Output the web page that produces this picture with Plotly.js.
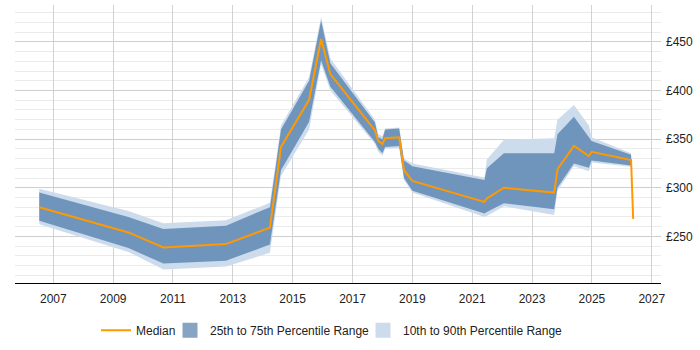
<!DOCTYPE html>
<html><head><meta charset="utf-8">
<script src="https://cdn.plot.ly/plotly-3.0.1.min.js"></script>
<style>html,body{margin:0;padding:0;background:#fff}#chart{width:700px;height:350px}</style>
</head><body><div id="chart"></div>
<script>
const years  = [2006.53, 2009.51, 2010.68, 2012.77, 2014.24, 2014.61, 2015.55, 2015.95, 2016.26, 2017.75, 2017.86, 2018.00, 2018.09, 2018.56, 2018.72, 2019.00, 2021.41, 2021.49, 2022.06, 2023.74, 2023.85, 2024.40, 2024.90, 2024.99, 2026.31, 2026.38];
const median = [280, 254, 238.5, 242, 259, 342, 390.5, 453, 417, 359, 348, 345, 351, 352, 318, 307, 285.5, 289, 300, 295, 319, 343, 332.5, 337, 328.5, 268];
const p25    = [266, 238, 222, 225, 241.5, 318, 368, 431, 404, 347, 340, 335.5, 342, 343, 310, 297, 273.5, 275, 284, 278, 300, 325, 320.5, 328, 323, 268];
const p75    = [295, 270, 257.5, 261, 280, 360, 410, 472, 428, 367, 352, 350, 360, 361, 328, 322, 308, 320, 335.5, 335.5, 355, 373, 352, 348, 334, 268];
const p10    = [262.5, 234, 216, 219, 233, 312, 360, 427, 400, 345, 337, 333, 340, 341, 308, 295, 270, 271, 281, 272, 297, 322, 317, 326, 321.5, 268];
const p90    = [299, 276, 263.5, 266.5, 284.5, 364, 414, 476, 433, 370, 355, 353, 361, 362, 330, 325, 310.5, 329, 349.5, 351, 370, 385, 364, 352, 335.5, 268];
const yTickPrefix = '£';
const seriesNames = ['Median', '25th to 75th Percentile Range', '10th to 90th Percentile Range'];

const rev = a => a.slice().reverse();
const lightCol = 'rgb(205,220,236)';
const darkCol = 'rgb(112,149,188)';
const orange = 'rgb(255,153,0)';

const traces = [
  {x: years.concat(rev(years)), y: p90.concat(rev(p10)), type: 'scatter', mode: 'lines',
   fill: 'toself', fillcolor: lightCol, line: {width: 0}, showlegend: false, hoverinfo: 'skip'},
  {x: years.concat(rev(years)), y: p75.concat(rev(p25)), type: 'scatter', mode: 'lines',
   fill: 'toself', fillcolor: darkCol, line: {width: 0}, showlegend: false, hoverinfo: 'skip'},
  {x: years, y: median, type: 'scatter', mode: 'lines', name: seriesNames[0],
   line: {color: orange, width: 2}, legendwidth: 29},
  {x: [null], y: [null], type: 'scatter', mode: 'markers', name: seriesNames[1],
   marker: {symbol: 'square', size: 15, color: 'rgb(136,164,197)'}, legendwidth: 148},
  {x: [null], y: [null], type: 'scatter', mode: 'markers', name: seriesNames[2],
   marker: {symbol: 'square', size: 15, color: lightCol}}
];

const layout = {
  width: 700, height: 350,
  margin: {l: 15, r: 39, t: 5, b: 57},
  paper_bgcolor: '#fff', plot_bgcolor: '#fff',
  font: {family: 'Liberation Sans, Arial, sans-serif', size: 12, color: '#222'},
  showlegend: true,
  legend: {orientation: 'h', x: 0.1254, xanchor: 'left', y: -0.118, yanchor: 'top',
           font: {size: 12, color: '#222'}, traceorder: 'normal'},
  xaxis: {range: [2005.72, 2027.31], tick0: 2007, dtick: 2, showgrid: true,
          gridcolor: '#d2d2d2', showline: true, linecolor: '#000', linewidth: 1,
          zeroline: false, ticks: '', ticklabelstandoff: 5, fixedrange: true},
  yaxis: {side: 'right', range: [202, 488], tick0: 0, dtick: 50, tickprefix: yTickPrefix,
          showgrid: true, gridcolor: '#cfcfcf', zeroline: false, ticks: '', ticklabelstandoff: 4,
          minor: {dtick: 10, showgrid: true, gridcolor: '#ebebeb'}, fixedrange: true}
};

Plotly.newPlot('chart', traces, layout, {displayModeBar: false, staticPlot: true});
</script>
</body></html>
